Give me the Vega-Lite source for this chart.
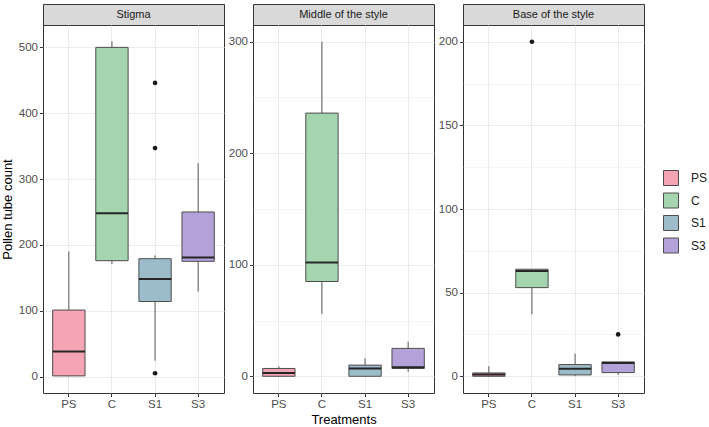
{
  "$schema": "https://vega.github.io/schema/vega-lite/v6.json",
  "background": "white",
  "padding": {"left": 0, "top": 3, "right": 5, "bottom": 3},
  "datasets": {
    "stats": [
      {"panel": "Stigma", "trt": "PS", "lower": 0, "q1": 1, "median": 38, "q3": 101, "upper": 190},
      {"panel": "Stigma", "trt": "C", "lower": 171, "q1": 176, "median": 248, "q3": 500, "upper": 509},
      {"panel": "Stigma", "trt": "S1", "lower": 24, "q1": 114, "median": 148, "q3": 179, "upper": 184},
      {"panel": "Stigma", "trt": "S3", "lower": 129, "q1": 175, "median": 181, "q3": 250, "upper": 324},
      {"panel": "Middle", "trt": "PS", "lower": 0, "q1": 0, "median": 3, "q3": 7, "upper": 9},
      {"panel": "Middle", "trt": "C", "lower": 56, "q1": 85, "median": 102, "q3": 236, "upper": 300},
      {"panel": "Middle", "trt": "S1", "lower": 0, "q1": 0, "median": 7, "q3": 10, "upper": 16},
      {"panel": "Middle", "trt": "S3", "lower": 4, "q1": 7, "median": 8, "q3": 25, "upper": 31},
      {"panel": "Base", "trt": "PS", "lower": 0, "q1": 0, "median": 1, "q3": 2, "upper": 6},
      {"panel": "Base", "trt": "C", "lower": 37, "q1": 53, "median": 63, "q3": 64, "upper": 64},
      {"panel": "Base", "trt": "S1", "lower": 0, "q1": 0.8, "median": 4.5, "q3": 7, "upper": 13.5},
      {"panel": "Base", "trt": "S3", "lower": 0.8, "q1": 2.2, "median": 8, "q3": 8.6, "upper": 8.6}
    ],
    "outliers": [
      {"panel": "Stigma", "trt": "S1", "value": 446},
      {"panel": "Stigma", "trt": "S1", "value": 347},
      {"panel": "Stigma", "trt": "S1", "value": 5},
      {"panel": "Base", "trt": "C", "value": 200},
      {"panel": "Base", "trt": "S3", "value": 25}
    ]
  },
  "config": {
    "font": "Liberation Sans",
    "view": {"stroke": "#333333", "strokeWidth": 1},
    "axis": {
      "domain": false,
      "labelColor": "#4D4D4D",
      "labelFontSize": 11.5,
      "labelPadding": 2,
      "tickColor": "#333333",
      "tickSize": 3.5,
      "gridColor": "#EBEBEB",
      "titleFontWeight": "normal",
      "titleFontSize": 13,
      "titleColor": "#000000"
    },
    "text": {"font": "Liberation Sans"}
  },
  "columns": 3,
  "spacing": {"row": 0, "column": 29},
  "bounds": "flush",
  "resolve": {"scale": {"color": "shared", "x": "independent", "y": "independent"}},
  "concat": [
    {
      "width": 181, "height": 21,
      "data": {"values": [{"label": "Stigma"}]},
      "mark": {"type": "text", "fontSize": 11, "color": "#1A1A1A", "baseline": "middle"},
      "encoding": {"text": {"field": "label"}},
      "view": {"fill": "#D9D9D9", "stroke": "#333333"}
    },
    {
      "width": 181, "height": 21,
      "data": {"values": [{"label": "Middle of the style"}]},
      "mark": {"type": "text", "fontSize": 11, "color": "#1A1A1A", "baseline": "middle"},
      "encoding": {"text": {"field": "label"}},
      "view": {"fill": "#D9D9D9", "stroke": "#333333"}
    },
    {
      "width": 181, "height": 21,
      "data": {"values": [{"label": "Base of the style"}]},
      "mark": {"type": "text", "fontSize": 11, "color": "#1A1A1A", "baseline": "middle"},
      "encoding": {"text": {"field": "label"}},
      "view": {"fill": "#D9D9D9", "stroke": "#333333"}
    },
    {
      "width": 181, "height": 368,
      "data": {"name": "stats"},
      "transform": [{"filter": "datum.panel === 'Stigma'"}],
      "layer": [
        {
          "mark": {"type": "rule", "color": "#595959", "strokeWidth": 1},
          "encoding": {
            "x": {"field": "trt", "type": "nominal", "sort": ["PS", "C", "S1", "S3"], "title": null,
                  "scale": {"paddingInner": 0.25, "paddingOuter": 0.225},
                  "axis": {"labelAngle": 0, "grid": true, "bandPosition": 0.5}},
            "y": {"field": "lower", "type": "quantitative", "title": "Pollen tube count",
                  "scale": {"domain": [-25, 534], "nice": false, "zero": false},
                  "axis": {"values": [0, 50, 100, 150, 200, 250, 300, 350, 400, 450, 500],
                           "labelExpr": "datum.value % 100 === 0 ? datum.label : ''",
                           "gridWidth": {"condition": {"test": "datum.value % 100 === 0", "value": 1.1}, "value": 0.5},
                           "tickOpacity": {"condition": {"test": "datum.value % 100 === 0", "value": 1}, "value": 0}}},
            "y2": {"field": "upper"}
          }
        },
        {
          "mark": {"type": "bar", "stroke": "#4D4D4D", "strokeWidth": 1},
          "encoding": {
            "x": {"field": "trt", "type": "nominal", "sort": ["PS", "C", "S1", "S3"], "title": null},
            "y": {"field": "q1", "type": "quantitative", "title": "Pollen tube count"},
            "y2": {"field": "q3"},
            "color": {"field": "trt", "type": "nominal", "title": null,
                      "scale": {"domain": ["PS", "C", "S1", "S3"], "range": ["#F4A4B3", "#A4D5AF", "#9DBCCA", "#B4A1D9"]},
                      "legend": {"orient": "none", "legendX": 620, "legendY": 166, "symbolType": "square", "symbolSize": 225,
                                 "symbolStrokeColor": "#4D4D4D", "symbolStrokeWidth": 1, "symbolOpacity": 1,
                                 "labelFontSize": 12, "labelColor": "#1A1A1A", "rowPadding": 2.5, "labelOffset": 12}}
          }
        },
        {
          "mark": {"type": "bar", "stroke": "#262626", "strokeWidth": 2, "fill": null},
          "encoding": {
            "x": {"field": "trt", "type": "nominal", "sort": ["PS", "C", "S1", "S3"], "title": null},
            "y": {"field": "median", "type": "quantitative", "title": "Pollen tube count"},
            "y2": {"field": "median"}
          }
        },
        {
          "data": {"name": "outliers"},
          "transform": [{"filter": "datum.panel === 'Stigma'"}],
          "mark": {"type": "point", "filled": true, "color": "#1A1A1A", "size": 22, "opacity": 1},
          "encoding": {
            "x": {"field": "trt", "type": "nominal", "sort": ["PS", "C", "S1", "S3"], "title": null},
            "y": {"field": "value", "type": "quantitative", "title": "Pollen tube count"}
          }
        }
      ]
    },
    {
      "width": 181, "height": 368,
      "data": {"name": "stats"},
      "transform": [{"filter": "datum.panel === 'Middle'"}],
      "layer": [
        {
          "mark": {"type": "rule", "color": "#595959", "strokeWidth": 1},
          "encoding": {
            "x": {"field": "trt", "type": "nominal", "sort": ["PS", "C", "S1", "S3"], "title": "Treatments",
                  "scale": {"paddingInner": 0.25, "paddingOuter": 0.225},
                  "axis": {"labelAngle": 0, "grid": true, "bandPosition": 0.5, "titlePadding": 3}},
            "y": {"field": "lower", "type": "quantitative", "title": null,
                  "scale": {"domain": [-15, 315], "nice": false, "zero": false},
                  "axis": {"values": [0, 50, 100, 150, 200, 250, 300],
                           "labelExpr": "datum.value % 100 === 0 ? datum.label : ''",
                           "gridWidth": {"condition": {"test": "datum.value % 100 === 0", "value": 1.1}, "value": 0.5},
                           "tickOpacity": {"condition": {"test": "datum.value % 100 === 0", "value": 1}, "value": 0}}},
            "y2": {"field": "upper"}
          }
        },
        {
          "mark": {"type": "bar", "stroke": "#4D4D4D", "strokeWidth": 1},
          "encoding": {
            "x": {"field": "trt", "type": "nominal", "sort": ["PS", "C", "S1", "S3"], "title": "Treatments"},
            "y": {"field": "q1", "type": "quantitative", "title": null},
            "y2": {"field": "q3"},
            "color": {"field": "trt", "type": "nominal", "title": null}
          }
        },
        {
          "mark": {"type": "bar", "stroke": "#262626", "strokeWidth": 2, "fill": null},
          "encoding": {
            "x": {"field": "trt", "type": "nominal", "sort": ["PS", "C", "S1", "S3"], "title": "Treatments"},
            "y": {"field": "median", "type": "quantitative", "title": null},
            "y2": {"field": "median"}
          }
        }
      ]
    },
    {
      "width": 181, "height": 368,
      "data": {"name": "stats"},
      "transform": [{"filter": "datum.panel === 'Base'"}],
      "layer": [
        {
          "mark": {"type": "rule", "color": "#595959", "strokeWidth": 1},
          "encoding": {
            "x": {"field": "trt", "type": "nominal", "sort": ["PS", "C", "S1", "S3"], "title": null,
                  "scale": {"paddingInner": 0.25, "paddingOuter": 0.225},
                  "axis": {"labelAngle": 0, "grid": true, "bandPosition": 0.5}},
            "y": {"field": "lower", "type": "quantitative", "title": null,
                  "scale": {"domain": [-10, 210], "nice": false, "zero": false},
                  "axis": {"values": [0, 25, 50, 75, 100, 125, 150, 175, 200],
                           "labelExpr": "datum.value % 50 === 0 ? datum.label : ''",
                           "gridWidth": {"condition": {"test": "datum.value % 50 === 0", "value": 1.1}, "value": 0.5},
                           "tickOpacity": {"condition": {"test": "datum.value % 50 === 0", "value": 1}, "value": 0}}},
            "y2": {"field": "upper"}
          }
        },
        {
          "mark": {"type": "bar", "stroke": "#4D4D4D", "strokeWidth": 1},
          "encoding": {
            "x": {"field": "trt", "type": "nominal", "sort": ["PS", "C", "S1", "S3"], "title": null},
            "y": {"field": "q1", "type": "quantitative", "title": null},
            "y2": {"field": "q3"},
            "color": {"field": "trt", "type": "nominal", "title": null}
          }
        },
        {
          "mark": {"type": "bar", "stroke": "#262626", "strokeWidth": 2, "fill": null},
          "encoding": {
            "x": {"field": "trt", "type": "nominal", "sort": ["PS", "C", "S1", "S3"], "title": null},
            "y": {"field": "median", "type": "quantitative", "title": null},
            "y2": {"field": "median"}
          }
        },
        {
          "data": {"name": "outliers"},
          "transform": [{"filter": "datum.panel === 'Base'"}],
          "mark": {"type": "point", "filled": true, "color": "#1A1A1A", "size": 22, "opacity": 1},
          "encoding": {
            "x": {"field": "trt", "type": "nominal", "sort": ["PS", "C", "S1", "S3"], "title": null},
            "y": {"field": "value", "type": "quantitative", "title": null}
          }
        }
      ]
    }
  ]
}
